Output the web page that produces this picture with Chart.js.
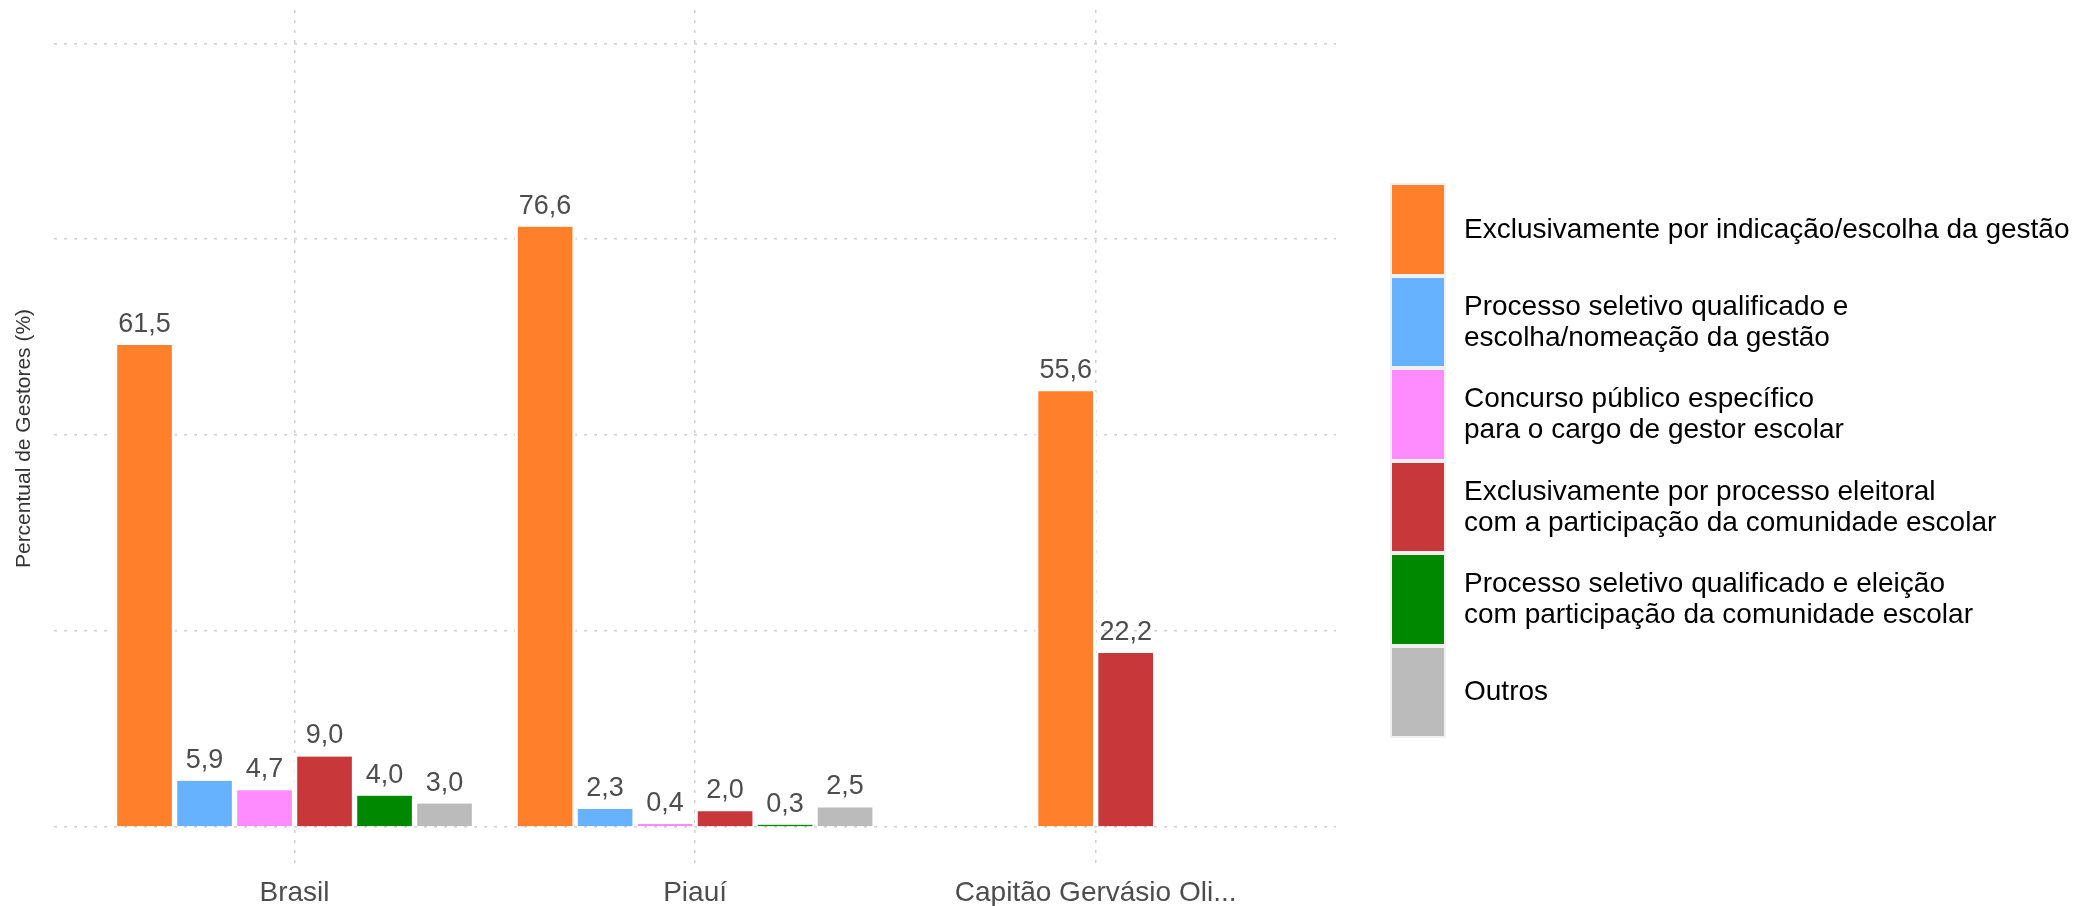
<!DOCTYPE html>
<html lang="pt-BR">
<head>
<meta charset="utf-8">
<title>Forma de acesso ao cargo de gestor</title>
<script src="https://cdn.jsdelivr.net/npm/chart.js@4.4.1/dist/chart.umd.min.js"></script>
<style>
    body { margin: 0; background: #fff; font-family: "Liberation Sans", Arial, Helvetica, sans-serif; }
    #wrap { position: relative; width: 2093px; height: 906px; }
    #legenda { position: absolute; left: 1390px; top: 183px; }
    .item { display: flex; align-items: center; height: 92.5px; }
    .chave { width: 56px; height: 92.5px; box-sizing: border-box; border: 2px solid #f0f0f0; border-top-width: 2.5px; border-bottom-width: 2.5px; }
    .texto { margin-left: 18px; font-size: 28px; line-height: 1.1; color: #000; white-space: pre-line; }
</style>
</head>
<body>
<div id="wrap">
    <canvas id="grafico" width="2093" height="906"></canvas>
    <div id="legenda"></div>
</div>
<script>
// Dados
const categorias = ['Brasil', 'Piauí', 'Capitão Gervásio Oli...'];
const series = [
    'Exclusivamente por indicação/escolha da gestão',
    'Processo seletivo qualificado e\nescolha/nomeação da gestão',
    'Concurso público específico\npara o cargo de gestor escolar',
    'Exclusivamente por processo eleitoral\ncom a participação da comunidade escolar',
    'Processo seletivo qualificado e eleição\ncom participação da comunidade escolar',
    'Outros'
];
const cores = ['#FF7F2A', '#66B2FF', '#FF8CFF', '#C8373A', '#008800', '#BBBBBB'];
const indicacao = [61.5, 76.6, 55.6];
const seletivoNomeacao = [5.9, 2.3, null];
const concurso = [4.7, 0.4, null];
const eleitoral = [9.0, 2.0, 22.2];
const seletivoEleicao = [4.0, 0.3, null];
const outros = [3.0, 2.5, null];
const yTicks = [0, 25, 50, 75, 100];

const valores = [indicacao, seletivoNomeacao, concurso, eleitoral, seletivoEleicao, outros];

const fonte = '"Liberation Sans", Arial, Helvetica, sans-serif';

// Rotulos de valor em cima das barras
const rotulosPlugin = {
    id: 'rotulos',
    afterDatasetsDraw(chart) {
        const ctx = chart.ctx;
        ctx.save();
        ctx.font = '27px ' + fonte;
        ctx.fillStyle = '#4d4d4d';
        ctx.textAlign = 'center';
        ctx.textBaseline = 'alphabetic';
        chart.data.datasets.forEach((ds, i) => {
            const meta = chart.getDatasetMeta(i);
            meta.data.forEach((bar, j) => {
                const v = ds.data[j].y;
                if (v === null || v === undefined) return;
                ctx.fillText(v.toFixed(1).replace('.', ','), bar.x, bar.y - 13);
            });
        });
        ctx.restore();
    }
};

const datasets = series.map((nome, i) => ({
    label: nome.replace('\n', ' '),
    data: valores[i].map((v, j) => ({ x: j, y: v })),
    backgroundColor: cores[i],
    borderColor: '#ffffff',
    borderWidth: { left: 3, right: 3, top: 0, bottom: 0 },
    borderSkipped: false,
    barThickness: 60,
    skipNull: true
}));

new Chart(document.getElementById('grafico'), {
    type: 'bar',
    data: { datasets: datasets },
    options: {
        responsive: false,
        animation: false,
        layout: { padding: { top: 10, right: 757, left: 0, bottom: -13 } },
        plugins: {
            legend: { display: false },
            tooltip: { enabled: false }
        },
        scales: {
            x: {
                type: 'linear',
                min: -0.6,
                max: 2.6,
                offset: false,
                afterBuildTicks: axis => { axis.ticks = categorias.map((c, i) => ({ value: i })); },
                ticks: {
                    callback: v => categorias[v],
                    color: '#4d4d4d',
                    font: { family: fonte, size: 28, lineHeight: 1 },
                    padding: 12,
                    maxRotation: 0,
                    autoSkip: false
                },
                grid: { offset: false, drawTicks: false, color: '#cfcfcf', lineWidth: 1.5 },
                border: { display: false, dash: [3, 7] }
            },
            y: {
                min: -5.1,
                max: 104.25,
                afterBuildTicks: axis => { axis.ticks = yTicks.map(v => ({ value: v })); },
                ticks: { display: false },
                grid: { drawTicks: false, color: '#cfcfcf', lineWidth: 1.5 },
                border: { display: false, dash: [3, 7] },
                title: {
                    display: true,
                    text: 'Percentual de Gestores (%)',
                    color: '#333333',
                    font: { family: fonte, size: 21, lineHeight: 1.2 },
                    padding: { top: 12, bottom: 17 }
                }
            }
        }
    },
    plugins: [rotulosPlugin]
});

// Legenda
const legenda = document.getElementById('legenda');
legenda.innerHTML = series.map((nome, i) => `
    <div class="item">
        <div class="chave" style="background:${cores[i]}"></div>
        <div class="texto">${nome}</div>
    </div>
`).join('');
</script>
</body>
</html>
